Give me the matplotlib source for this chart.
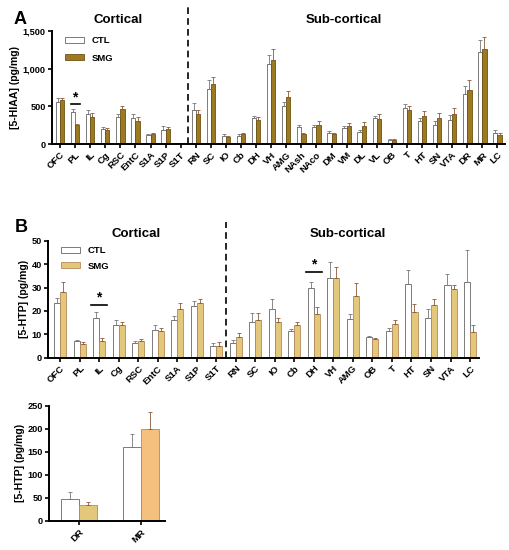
import numpy as np
import matplotlib
matplotlib.use('Agg')
from matplotlib import pyplot as plt
from matplotlib.patches import Patch
from matplotlib.ticker import FuncFormatter

plt.rcParams['font.family'] = ['Liberation Sans', 'DejaVu Sans']
plt.rcParams['font.weight'] = 'bold'

# 数据 - A: 5-HIAA
regions_a = ['OFC', 'PL', 'IL', 'Cg', 'RSC', 'EntC', 'S1A', 'S1P', 'S1T', 'RN', 'SC', 'IO', 'Cb', 'DH',
             'VH', 'AMG', 'NAsh', 'NAco', 'DM', 'VM', 'DL', 'VL', 'OB', 'T', 'HT', 'SN', 'VTA', 'DR', 'MR', 'LC']
ctl_a = [556, 423, 400, 205, 365, 347, 116, 187, 8, 454, 734, 102, 111, 343,
         1068, 498, 227, 227, 151, 218, 160, 347, 53, 480, 311, 258, 320, 667, 1219, 147]
smg_a = [587, 258, 356, 191, 463, 303, 129, 196, 8, 392, 792, 93, 133, 320,
         1121, 618, 133, 258, 129, 240, 245, 334, 58, 454, 374, 347, 400, 712, 1255, 120]
ctl_a_err = [55, 44, 45, 22, 35, 53, 17, 53, 4, 84, 111, 27, 22, 31,
             107, 58, 27, 27, 27, 22, 22, 31, 14, 45, 36, 45, 67, 98, 160, 40]
smg_a_err = [27, 10, 53, 18, 35, 53, 13, 35, 4, 62, 98, 18, 18, 45,
             134, 89, 14, 44, 18, 36, 49, 58, 9, 44, 58, 67, 76, 133, 160, 22]

# 数据 - B: 5-HTP
regions_b = ['OFC', 'PL', 'IL', 'Cg', 'RSC', 'EntC', 'S1A', 'S1P', 'S1T', 'RN', 'SC',
             'IO', 'Cb', 'DH', 'VH', 'AMG', 'OB', 'T', 'HT', 'SN', 'VTA', 'LC']
ctl_b = [23.6, 6.9, 17.1, 14.0, 6.3, 11.9, 15.9, 21.9, 5.0, 6.3, 15.1,
         20.7, 11.4, 29.7, 34.0, 16.6, 8.9, 11.4, 31.4, 16.9, 31.0, 32.4]
smg_b = [28.2, 5.7, 7.1, 14.0, 7.0, 11.4, 20.7, 23.3, 5.0, 8.9, 16.1,
         15.3, 13.9, 18.6, 34.0, 26.4, 7.9, 14.3, 19.4, 22.4, 29.3, 11.1]
ctl_b_err = [1.8, 0.5, 2.6, 1.9, 0.6, 2.1, 2.0, 2.5, 1.4, 1.0, 3.9,
             4.3, 1.0, 2.9, 6.9, 2.0, 0.5, 1.3, 6.0, 4.1, 5.0, 13.6]
smg_b_err = [4.0, 0.8, 1.2, 1.1, 0.9, 1.4, 2.7, 2.0, 1.7, 1.5, 3.2,
             1.8, 1.5, 3.0, 5.0, 5.7, 0.4, 1.6, 3.5, 2.9, 2.0, 2.8]

# 数据 - B 下图: DR, MR
regions_c = ['DR', 'MR']
ctl_c = [47.7, 159.7]
smg_c = [34.7, 198.7]
ctl_c_err = [15.0, 29.6]
smg_c_err = [5.8, 36.8]

W, H = 510, 550
fig = plt.figure(figsize=(W / 100, H / 100), dpi=100)


def px_axes(left, top, right, bottom):
    return fig.add_axes([left / W, 1 - bottom / H, (right - left) / W, (bottom - top) / H])


def style(ax):
    for s in ['top', 'right']:
        ax.spines[s].set_visible(False)
    for s in ['left', 'bottom']:
        ax.spines[s].set_linewidth(1.4)
    ax.tick_params(axis='both', width=1.2, length=3, labelsize=6.6, pad=1.5)
    for lab in ax.get_yticklabels():
        lab.set_fontweight('bold')


def bars(ax, ctl, smg, ctl_err, smg_err, width, smg_color, smg_edge):
    x = np.arange(len(ctl))
    ax.bar(x - width / 2, ctl, width, color='white', edgecolor='#666666', linewidth=0.6,
           yerr=[np.zeros(len(ctl)), ctl_err], error_kw=dict(ecolor='#777777', elinewidth=0.6, capsize=1.2, capthick=0.6))
    ax.bar(x + width / 2, smg, width, color=smg_color, edgecolor=smg_edge, linewidth=0.6,
           yerr=[np.zeros(len(smg)), smg_err], error_kw=dict(ecolor='#8a5a3a', elinewidth=0.6, capsize=1.2, capthick=0.6))
    return x


def xlabels(ax, x, labels):
    ax.set_xticks(x)
    ax.set_xticklabels(labels, rotation=45, ha='right', rotation_mode='anchor', fontsize=6.8, fontweight='bold')


def sig(ax, xc, y, half, fs=9):
    ax.plot([xc - half, xc + half], [y, y], color='black', lw=1.2)
    ax.text(xc, y, '*', ha='center', va='bottom', fontsize=fs, fontweight='bold')


smg_a_col, smg_a_edge = '#9c7a22', '#6e5312'
smg_b_col, smg_b_edge = '#e3c77a', '#b58a5a'
legend_kw = dict(loc='upper left', bbox_to_anchor=(0.01, 1.03), frameon=False,
                 handlelength=2.0, handleheight=0.65, handletextpad=0.8,
                 prop=dict(weight='bold', size=6.8))

# A
axA = px_axes(52, 31, 505, 144)
x = bars(axA, ctl_a, smg_a, ctl_a_err, smg_a_err, 0.28, smg_a_col, smg_a_edge)
axA.set_xlim(-0.53, 29.5)
axA.set_ylim(0, 1500)
axA.set_yticks([0, 500, 1000, 1500])
axA.yaxis.set_major_formatter(FuncFormatter(lambda v, p: f'{int(v):,}'))
style(axA)
xlabels(axA, x, regions_a)
axA.set_ylabel('[5-HIAA] (pg/mg)', fontsize=7.6, fontweight='bold', labelpad=2)
axA.plot([8.5, 8.5], [0, 1830], color='black', lw=1.2, ls=(0, (4, 2.5)), clip_on=False)
sig(axA, 1, 525, 0.3, 10)
axA.legend(handles=[Patch(facecolor='white', edgecolor='#666666', lw=0.6, label='CTL'),
                    Patch(facecolor=smg_a_col, edgecolor=smg_a_edge, lw=0.6, label='SMG')],
           labelspacing=0.9, **legend_kw)
fig.text(14 / W, 1 - 20 / H, 'A', fontsize=13, fontweight='bold', va='center', ha='left')
fig.text(118 / W, 1 - 20 / H, 'Cortical', fontsize=9.5, fontweight='bold', va='center', ha='center')
fig.text(344 / W, 1 - 20 / H, 'Sub-cortical', fontsize=9.5, fontweight='bold', va='center', ha='center')

# B
axB = px_axes(48, 241, 479, 357.5)
x = bars(axB, ctl_b, smg_b, ctl_b_err, smg_b_err, 0.31, smg_b_col, smg_b_edge)
axB.set_xlim(-0.62, 21.46)
axB.set_ylim(0, 50)
axB.set_yticks([0, 10, 20, 30, 40, 50])
style(axB)
xlabels(axB, x, regions_b)
axB.set_ylabel('[5-HTP] (pg/mg)', fontsize=7.6, fontweight='bold', labelpad=2)
axB.plot([8.5, 8.5], [0, 58.2], color='black', lw=1.2, ls=(0, (4, 2.5)), clip_on=False)
sig(axB, 2, 22.6, 0.4, 10)
sig(axB, 13, 36.8, 0.4, 10)
axB.legend(handles=[Patch(facecolor='white', edgecolor='#666666', lw=0.6, label='CTL'),
                    Patch(facecolor=smg_b_col, edgecolor=smg_b_edge, lw=0.6, label='SMG')],
           labelspacing=0.7, **legend_kw)
fig.text(15 / W, 1 - 228 / H, 'B', fontsize=13, fontweight='bold', va='center', ha='left')
fig.text(136 / W, 1 - 234 / H, 'Cortical', fontsize=9.5, fontweight='bold', va='center', ha='center')
fig.text(348 / W, 1 - 234 / H, 'Sub-cortical', fontsize=9.5, fontweight='bold', va='center', ha='center')

# B 下图
axC = px_axes(49, 405.7, 165, 521)
x = bars(axC, ctl_c, smg_c, ctl_c_err, smg_c_err, 0.29, smg_b_col, smg_b_edge)
axC.patches[-1].set_facecolor('#f5c07e')
axC.set_xlim(-0.48, 1.39)
axC.set_ylim(0, 250)
axC.set_yticks([0, 50, 100, 150, 200, 250])
style(axC)
xlabels(axC, x, regions_c)
axC.set_ylabel('[5-HTP] (pg/mg)', fontsize=7.6, fontweight='bold', labelpad=2)

fig.savefig('out.png', dpi=100)
